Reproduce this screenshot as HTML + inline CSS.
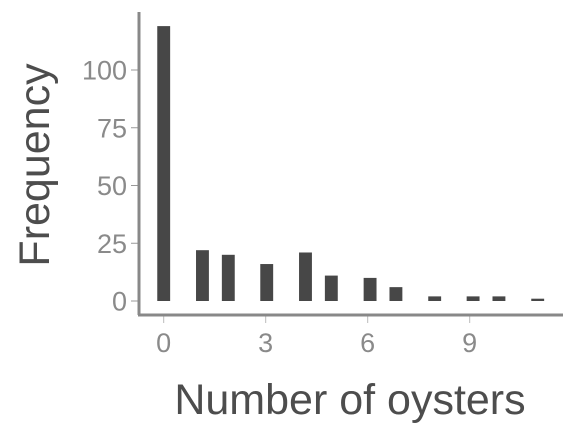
<!DOCTYPE html>
<html><head><meta charset="utf-8"><style>
body{margin:0;background:#fff;}
svg{display:block;font-family:"Liberation Sans",Arial,sans-serif;}
</style></head><body>
<svg id="chart" width="576" height="432" viewBox="0 0 576 432">
<g id="bars"></g>
<g id="yticks"></g>
<g id="xticks"></g>
<line x1="139" y1="12" x2="139" y2="315" stroke="#888888" stroke-width="3"/>
<line x1="138" y1="315" x2="563" y2="315" stroke="#888888" stroke-width="3"/>
<text transform="translate(49,165) rotate(-90)" text-anchor="middle" font-size="43" fill="#4d4d4d">Frequency</text>
<text x="350" y="414" text-anchor="middle" font-size="43" fill="#4d4d4d">Number of oysters</text>
</svg>
<script>
const binCenters=[0,1.14,1.9,3.03,4.17,4.93,6.07,6.83,7.97,9.1,9.86,11.0];
const counts=[119,22,20,16,21,11,10,6,2,2,2,1];
const yTicks=[0,25,50,75,100];
const xTicks=[0,3,6,9];
const binWidth=0.379;
const NS="http://www.w3.org/2000/svg";
const xs=v=>163.7+v*34;
const ys=v=>301-v*2.31;
const bars=document.getElementById('bars');
binCenters.forEach((c,i)=>{
  const r=document.createElementNS(NS,'rect');
  
  
  const w=binWidth*34;
  r.setAttribute('x',xs(c)-w/2);r.setAttribute('width',w);
  r.setAttribute('y',ys(counts[i]));r.setAttribute('height',ys(0)-ys(counts[i]));
  r.setAttribute('fill','#474747');
  bars.appendChild(r);
});
const yt=document.getElementById('yticks');
yTicks.forEach(v=>{
  const l=document.createElementNS(NS,'line');
  
  
  l.setAttribute('x1',131);l.setAttribute('x2',138);l.setAttribute('y1',ys(v));l.setAttribute('y2',ys(v));
  l.setAttribute('stroke','#999999');l.setAttribute('stroke-width','1');
  yt.appendChild(l);
  const t=document.createElementNS(NS,'text');
  
  
  t.setAttribute('x',127);t.setAttribute('y',ys(v)+9.5);t.setAttribute('text-anchor','end');
  t.setAttribute('font-size','27');t.setAttribute('fill','#8a8a8a');
  t.textContent=v;yt.appendChild(t);
});
const xt=document.getElementById('xticks');
xTicks.forEach(v=>{
  const l=document.createElementNS(NS,'line');
  
  
  l.setAttribute('x1',xs(v));l.setAttribute('x2',xs(v));l.setAttribute('y1',316);l.setAttribute('y2',323);
  l.setAttribute('stroke','#bbbbbb');l.setAttribute('stroke-width','1');
  xt.appendChild(l);
  const t=document.createElementNS(NS,'text');
  
  
  t.setAttribute('x',xs(v));t.setAttribute('y',352);t.setAttribute('text-anchor','middle');
  t.setAttribute('font-size','27');t.setAttribute('fill','#8a8a8a');
  t.textContent=v;xt.appendChild(t);
});
</script>
</body></html>
